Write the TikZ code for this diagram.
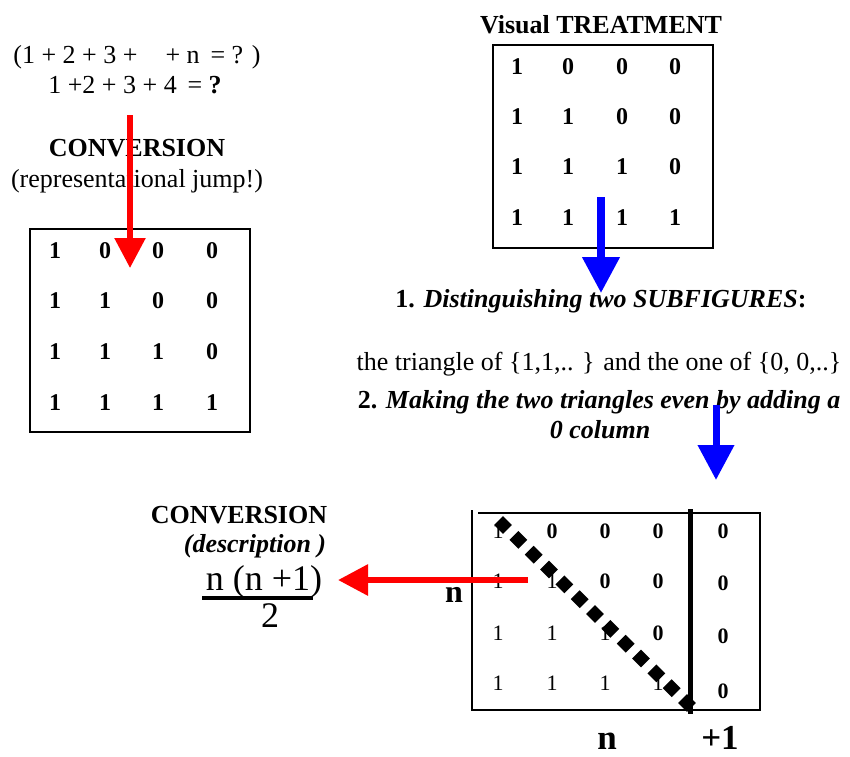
\documentclass[tikz,border=0pt]{standalone}
\usepackage{fontspec}
\setmainfont{Liberation Serif}
\usetikzlibrary{arrows.meta,shapes.geometric,calc}
\begin{document}
\begin{tikzpicture}[x=1pt,y=-1pt,
  txt/.style={inner sep=0pt,anchor=base,font=\fontsize{26}{30}\selectfont},
  big/.style={inner sep=0pt,anchor=base,font=\fontsize{36}{40}\selectfont},
  ent/.style={inner sep=0pt,anchor=base,font=\fontsize{24}{28}\selectfont\bfseries},
  sent/.style={inner sep=0pt,anchor=base,font=\fontsize{22}{26}\selectfont},
  sentb/.style={inner sep=0pt,anchor=base,font=\fontsize{22}{26}\selectfont\bfseries},
  frame/.style={draw=black,line width=2.5pt},
  dia/.style={diamond,fill=black,inner sep=0pt,minimum size=18pt},
  redarr/.style={draw=red,line width=5.5pt,-{Triangle[length=30pt,width=30pt]}},
  bluearr/.style={draw=blue,line width=7.5pt,-{Triangle[length=36pt,width=36pt]}}
]
\useasboundingbox (0,0) rectangle (850,756);

% ---------- top left ----------
\node[txt] (f1) at (137,63) {(1 + 2 + 3 +\hspace{28pt}+ n\, = ? )};
\node[txt] (f2) at (135,93) {1 +2 + 3 + 4\, = \textbf{?}};
\node[txt,font=\fontsize{26}{30}\selectfont\bfseries] (conv1) at (137,156) {CONVERSION};
\node[txt] (rep) at (137,187) {(representational jump!)};

\draw[frame] (30,229) rectangle (250,432);
\foreach \r/\yy in {1/258,2/308,3/359,4/410}
  \foreach \c/\xx in {1/55,2/105,3/158,4/212}{
    \pgfmathtruncatemacro\v{\c<=\r}
    \node[ent] (l\r\c) at (\xx,\yy) {\v};
  }

% ---------- top right ----------
\node[txt,font=\fontsize{26}{30}\selectfont\bfseries] (vis) at (601,33) {Visual TREATMENT};
\draw[frame] (493,45) rectangle (713,248);
\foreach \r/\yy in {1/74,2/124,3/174,4/225}
  \foreach \c/\xx in {1/517,2/568,3/622,4/675}{
    \pgfmathtruncatemacro\v{\c<=\r}
    \node[ent] (t\r\c) at (\xx,\yy) {\v};
  }

\node[txt] (s1) at (601,307) {\textbf{1.} \textbf{\textit{Distinguishing two SUBFIGURES}}\textbf{:}};
\node[txt] (tri) at (599,370) {the triangle of \{1,1,.. \} and the one of \{0, 0,..\}};
\node[txt] (s2) at (599,408) {\textbf{2.} \textbf{\textit{Making the two triangles even by adding a}}};
\node[txt] (s2b) at (600,438) {\textbf{\textit{0 column}}};

% ---------- bottom right matrix ----------
\draw[line width=2.5pt] (472,510) -- (472,710) -- (760,710) -- (760,513) -- (478,513);
\draw[line width=5pt] (690,509) -- (690,714);
\foreach \r/\yy in {1/538,2/588,3/640,4/690}
  \foreach \c/\xx in {1/498,2/552,3/605,4/658}{
    \ifnum\c>\r
      \node[sentb] (b\r\c) at (\xx,\yy) {0};
    \else
      \node[sent] (b\r\c) at (\xx,\yy) {1};
    \fi
  }
\foreach \r/\yy in {1/538,2/590,3/643,4/698}
  \node[sentb] (e\r) at (723,\yy) {0};

\coordinate (d1) at (503,525);
\coordinate (d2) at (687,703);
\foreach \i in {0,...,12}
  \node[dia] (dd\i) at ($(d1)!\i/12!(d2)$) {};

\node[inner sep=0pt,anchor=base,font=\fontsize{32}{36}\selectfont\bfseries] (nl) at (454,602) {n};
\node[inner sep=0pt,anchor=base,font=\fontsize{35}{40}\selectfont\bfseries] (nb) at (607,749) {n};
\node[inner sep=0pt,anchor=base,font=\fontsize{35}{40}\selectfont\bfseries] (p1) at (720,749) {+1};

% ---------- bottom left ----------
\node[txt,font=\fontsize{26}{30}\selectfont\bfseries] (conv2) at (239,523) {CONVERSION};
\node[txt,font=\fontsize{26}{30}\selectfont\bfseries\itshape] (desc) at (255,552) {(description )};
\node[big] (num) at (264,590) {n (n +1)};
\draw[line width=4pt] (202,598) -- (313,598);
\node[big] (den) at (270,627) {2};

% ---------- arrows ----------
\coordinate (ra1) at (130,115);
\coordinate (ra2) at (130,268);
\draw[redarr] (ra1) -- (ra2);
\coordinate (ba1) at (601,197);
\coordinate (ba2) at (601,293);
\draw[bluearr] (ba1) -- (ba2);
\coordinate (bb1) at (716,405);
\coordinate (bb2) at (716,480);
\draw[bluearr,line width=7pt,-{Triangle[length=35pt,width=35pt]}] (bb1) -- (bb2);
\coordinate (rb1) at (528,580);
\coordinate (rb2) at (338,580);
\draw[redarr,line width=6pt] (rb1) -- (rb2);
\end{tikzpicture}
\end{document}
